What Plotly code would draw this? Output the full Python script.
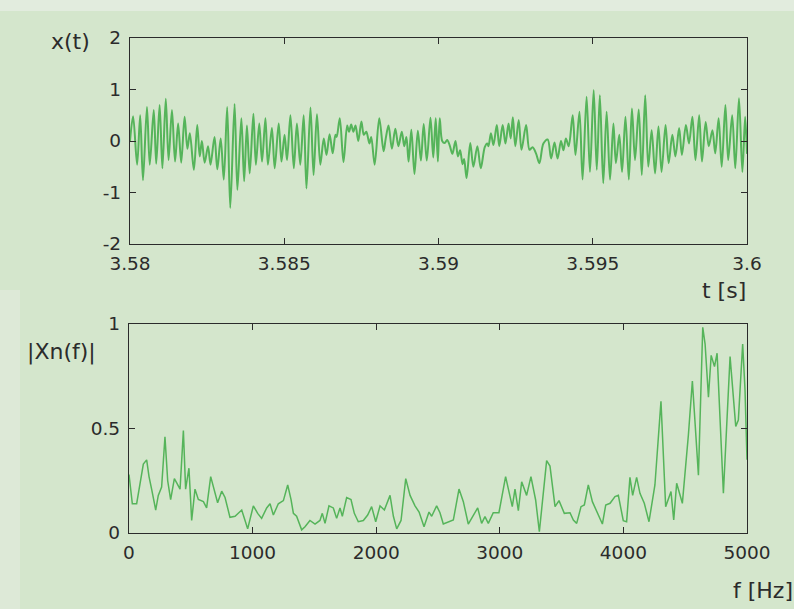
import plotly.graph_objects as go

# ---- time-domain segment x(t): sample times (ms after 3.58 s) and amplitudes ----
t_ms = [
    0.00, 0.10, 0.23, 0.33, 0.42, 0.55, 0.64, 0.77, 0.85, 0.96,
    1.05, 1.16, 1.25, 1.36, 1.46, 1.56, 1.66, 1.77, 1.86, 1.94,
    2.07, 2.18, 2.26, 2.33, 2.42, 2.53, 2.61, 2.74, 2.83, 2.94,
    3.04, 3.15, 3.25, 3.39, 3.48, 3.61, 3.70, 3.79, 3.88, 4.00,
    4.08, 4.19, 4.28, 4.39, 4.47, 4.60, 4.69, 4.82, 4.91, 5.01,
    5.09, 5.20, 5.31, 5.41, 5.52, 5.63, 5.72, 5.85, 5.95, 6.06,
    6.17, 6.28, 6.37, 6.47, 6.57, 6.66, 6.70, 6.80, 6.92, 7.04,
    7.10, 7.17, 7.24, 7.31, 7.40, 7.50, 7.58, 7.66, 7.76, 7.82,
    7.93, 8.08, 8.22, 8.29, 8.38, 8.49, 8.60, 8.70, 8.81, 8.89,
    8.96, 9.03, 9.12, 9.22, 9.33, 9.43, 9.52, 9.62, 9.74, 9.83,
    9.91, 9.98, 10.04, 10.12, 10.20, 10.28, 10.36, 10.45, 10.55, 10.63,
    10.70, 10.78, 10.83, 10.91, 11.03, 11.13, 11.26, 11.37, 11.50, 11.58,
    11.62, 11.70, 11.78, 11.89, 11.97, 12.08, 12.17, 12.27, 12.34, 12.41,
    12.49, 12.60, 12.69, 12.84, 12.95, 13.05, 13.16, 13.27, 13.40, 13.54,
    13.65, 13.76, 13.86, 13.97, 14.05, 14.13, 14.22, 14.35, 14.44, 14.57,
    14.67, 14.80, 14.91, 15.03, 15.13, 15.23, 15.34, 15.45, 15.56, 15.67,
    15.75, 15.86, 15.95, 16.06, 16.17, 16.27, 16.37, 16.49, 16.59, 16.70,
    16.80, 16.91, 17.02, 17.13, 17.23, 17.36, 17.46, 17.58, 17.68, 17.80,
    17.89, 18.02, 18.12, 18.23, 18.33, 18.45, 18.54, 18.66, 18.76, 18.88,
    18.97, 19.08, 19.18, 19.30, 19.39, 19.52, 19.62, 19.74, 19.85, 19.94,
    20.00,
]
x_t = [
    0.00, 0.48, -0.46, 0.50, -0.76, 0.66, -0.46, 0.60, -0.44, 0.70,
    -0.53, 0.82, -0.37, 0.60, -0.40, 0.34, -0.42, 0.47, -0.15, 0.15,
    -0.56, 0.31, -0.30, 0.00, -0.42, -0.10, -0.46, 0.08, -0.55, 0.05,
    -0.75, 0.66, -1.30, 0.72, -0.95, 0.44, -0.78, 0.30, -0.63, 0.53,
    -0.46, 0.34, -0.40, 0.44, -0.46, 0.25, -0.53, 0.34, -0.40, 0.12,
    -0.37, 0.50, -0.53, 0.34, -0.46, 0.50, -0.92, 0.65, -0.66, 0.52,
    -0.46, 0.05, -0.27, 0.13, -0.24, 0.12, 0.08, 0.44, -0.41, 0.30,
    0.18, 0.32, 0.18, 0.30, 0.00, 0.38, 0.12, 0.18, -0.05, 0.08,
    -0.46, 0.44, -0.20, 0.05, 0.30, -0.15, 0.24, -0.10, 0.18, -0.10,
    0.08, -0.40, 0.22, -0.64, 0.20, -0.38, 0.33, -0.38, 0.45, -0.32,
    0.44, -0.40, 0.44, 0.00, -0.04, 0.02, -0.08, -0.25, 0.00, -0.30,
    -0.18, -0.45, -0.35, -0.72, -0.04, -0.50, -0.10, -0.53, -0.12, -0.05,
    -0.10, 0.15, -0.08, 0.31, -0.10, 0.31, -0.05, 0.34, 0.05, 0.46,
    -0.10, 0.41, -0.17, 0.31, -0.17, -0.12, -0.24, -0.43, -0.05, 0.03,
    -0.34, -0.03, -0.34, 0.00, -0.18, 0.05, -0.10, 0.50, -0.27, 0.57,
    -0.75, 0.86, -0.60, 0.99, -0.56, 0.89, -0.82, 0.57, -0.75, 0.34,
    -0.43, 0.12, -0.60, 0.47, -0.75, 0.63, -0.37, 0.61, -0.66, 0.89,
    -0.50, 0.21, -0.63, 0.28, -0.60, 0.31, -0.43, 0.12, -0.30, 0.25,
    -0.27, 0.31, -0.05, 0.47, -0.37, 0.50, -0.40, 0.37, -0.10, 0.21,
    -0.24, 0.44, -0.50, 0.70, -0.37, 0.50, -0.53, 0.83, -0.60, 0.47,
    -0.25,
]
t_start = 3.58
t_sec = [t_start + v / 1000.0 for v in t_ms]

# ---- normalised magnitude spectrum |Xn(f)| ----
freq_hz = [
    0, 27, 62, 89, 116, 143, 162, 183, 216, 237,
    264, 291, 313, 337, 367, 386, 413, 440, 458, 485,
    507, 534, 561, 602, 628, 661, 690, 717, 750, 777,
    817, 858, 912, 960, 1006, 1041, 1073, 1114, 1141, 1168,
    1208, 1249, 1284, 1311, 1330, 1356, 1397, 1424, 1464, 1505,
    1545, 1564, 1586, 1618, 1653, 1680, 1707, 1726, 1761, 1796,
    1823, 1855, 1896, 1931, 1963, 1996, 2031, 2066, 2112, 2139,
    2166, 2201, 2239, 2274, 2314, 2347, 2387, 2427, 2449, 2489,
    2516, 2543, 2624, 2670, 2705, 2745, 2821, 2853, 2880, 2907,
    2947, 2993, 3047, 3101, 3123, 3150, 3177, 3217, 3252, 3290,
    3320, 3379, 3406, 3447, 3479, 3522, 3568, 3595, 3622, 3657,
    3684, 3716, 3749, 3784, 3830, 3857, 3892, 3932, 3959, 3999,
    4026, 4053, 4075, 4107, 4134, 4169, 4207, 4255, 4304, 4342,
    4385, 4407, 4431, 4477, 4526, 4558, 4607, 4642, 4661, 4688,
    4710, 4737, 4758, 4809, 4863, 4909, 4930, 4965, 4984, 5000,
]
mag = [
    0.28, 0.14, 0.14, 0.24, 0.33, 0.35, 0.27, 0.21, 0.11, 0.18,
    0.22, 0.46, 0.25, 0.16, 0.26, 0.24, 0.21, 0.49, 0.21, 0.31,
    0.06, 0.21, 0.16, 0.15, 0.12, 0.27, 0.21, 0.145, 0.20, 0.17,
    0.075, 0.08, 0.11, 0.02, 0.13, 0.094, 0.07, 0.12, 0.14, 0.086,
    0.14, 0.155, 0.23, 0.16, 0.094, 0.08, 0.015, 0.03, 0.06, 0.043,
    0.06, 0.094, 0.046, 0.13, 0.12, 0.07, 0.12, 0.08, 0.17, 0.16,
    0.094, 0.054, 0.06, 0.086, 0.126, 0.054, 0.13, 0.11, 0.18, 0.08,
    0.02, 0.06, 0.26, 0.18, 0.13, 0.10, 0.03, 0.10, 0.08, 0.13,
    0.097, 0.043, 0.062, 0.21, 0.15, 0.043, 0.12, 0.046, 0.078, 0.046,
    0.097, 0.097, 0.27, 0.126, 0.21, 0.107, 0.245, 0.18, 0.27, 0.158,
    0.006, 0.346, 0.32, 0.126, 0.155, 0.094, 0.097, 0.062, 0.046, 0.126,
    0.134, 0.23, 0.15, 0.10, 0.043, 0.134, 0.142, 0.174, 0.18, 0.059,
    0.054, 0.266, 0.18, 0.266, 0.19, 0.142, 0.054, 0.23, 0.63, 0.126,
    0.198, 0.062, 0.238, 0.142, 0.47, 0.727, 0.277, 0.984, 0.904, 0.65,
    0.85, 0.796, 0.86, 0.19, 0.844, 0.51, 0.54, 0.904, 0.684, 0.35,
]

t_ticks = [3.58, 3.585, 3.59, 3.595, 3.6]
t_tick_text = ["3.58", "3.585", "3.59", "3.595", "3.6"]
x_ticks = [-2, -1, 0, 1, 2]
x_tick_text = ["-2", "-1", "0", "1", "2"]
f_ticks = [0, 1000, 2000, 3000, 4000, 5000]
mag_ticks = [0, 0.5, 1]
mag_tick_text = ["0", "0.5", "1"]

W, H = 794, 609
BG = "#d4e6cc"
LINE_GREEN = "#55b45a"
INK = "#2b2b2b"
FONT = "DejaVu Sans"

fig = go.Figure()
fig.add_trace(go.Scatter(
    x=t_sec, y=x_t, mode="lines",
    line=dict(color=LINE_GREEN, width=2, shape="spline", smoothing=0.9),
    xaxis="x", yaxis="y", showlegend=False, hoverinfo="skip",
))
fig.add_trace(go.Scatter(
    x=freq_hz, y=mag, mode="lines",
    line=dict(color=LINE_GREEN, width=1.5),
    xaxis="x2", yaxis="y2", showlegend=False, hoverinfo="skip",
))

def px_x(p):
    return p / W

def px_y(p):
    return 1 - p / H

axis_common = dict(
    showline=True, linecolor=INK, linewidth=1.4, mirror="ticks",
    ticks="inside", ticklen=6, tickwidth=1.3, tickcolor=INK,
    showgrid=False, zeroline=False, automargin=False,
    tickfont=dict(family=FONT, size=18.5, color=INK),
)

fig.update_layout(
    template="none",
    width=W, height=H, autosize=False,
    margin=dict(l=0, r=0, t=0, b=0, pad=0),
    paper_bgcolor=BG, plot_bgcolor=BG,
    xaxis=dict(domain=[px_x(130), px_x(747)], range=[3.58, 3.6],
               tickvals=t_ticks, ticktext=t_tick_text, anchor="y",
               ticklabelstandoff=3, **axis_common),
    yaxis=dict(domain=[px_y(244), px_y(38)], range=[-2, 2],
               tickvals=x_ticks, ticktext=x_tick_text, anchor="x",
               ticklabelstandoff=4, **axis_common),
    xaxis2=dict(domain=[px_x(129), px_x(747)], range=[0, 5000],
                tickvals=f_ticks, anchor="y2", ticklabelstandoff=3, **axis_common),
    yaxis2=dict(domain=[px_y(533), px_y(324)], range=[0, 1],
                tickvals=mag_ticks, ticktext=mag_tick_text, anchor="x2",
                ticklabelstandoff=4, **axis_common),
)

# slightly paler paper edges along the top and lower-left border
fig.add_shape(type="rect", xref="paper", yref="paper", x0=0, x1=1, y0=px_y(11), y1=1,
              fillcolor="#e2ecde", line=dict(width=0), layer="below")
fig.add_shape(type="rect", xref="paper", yref="paper", x0=0, x1=px_x(20), y0=0, y1=px_y(290),
              fillcolor="#dde9d7", line=dict(width=0), layer="below")

label_font = dict(family=FONT, size=22, color=INK)
labels = [
    ("x(t)", 70, 41),
    ("t [s]", 724, 290),
    ("|Xn(f)|", 61, 352),
    ("f [Hz]", 763, 590),
]
for text, cx, cy in labels:
    fig.add_annotation(text=text, x=px_x(cx), y=px_y(cy), xref="paper", yref="paper",
                       showarrow=False, font=label_font, xanchor="center", yanchor="middle")

fig.write_html("out.html")
